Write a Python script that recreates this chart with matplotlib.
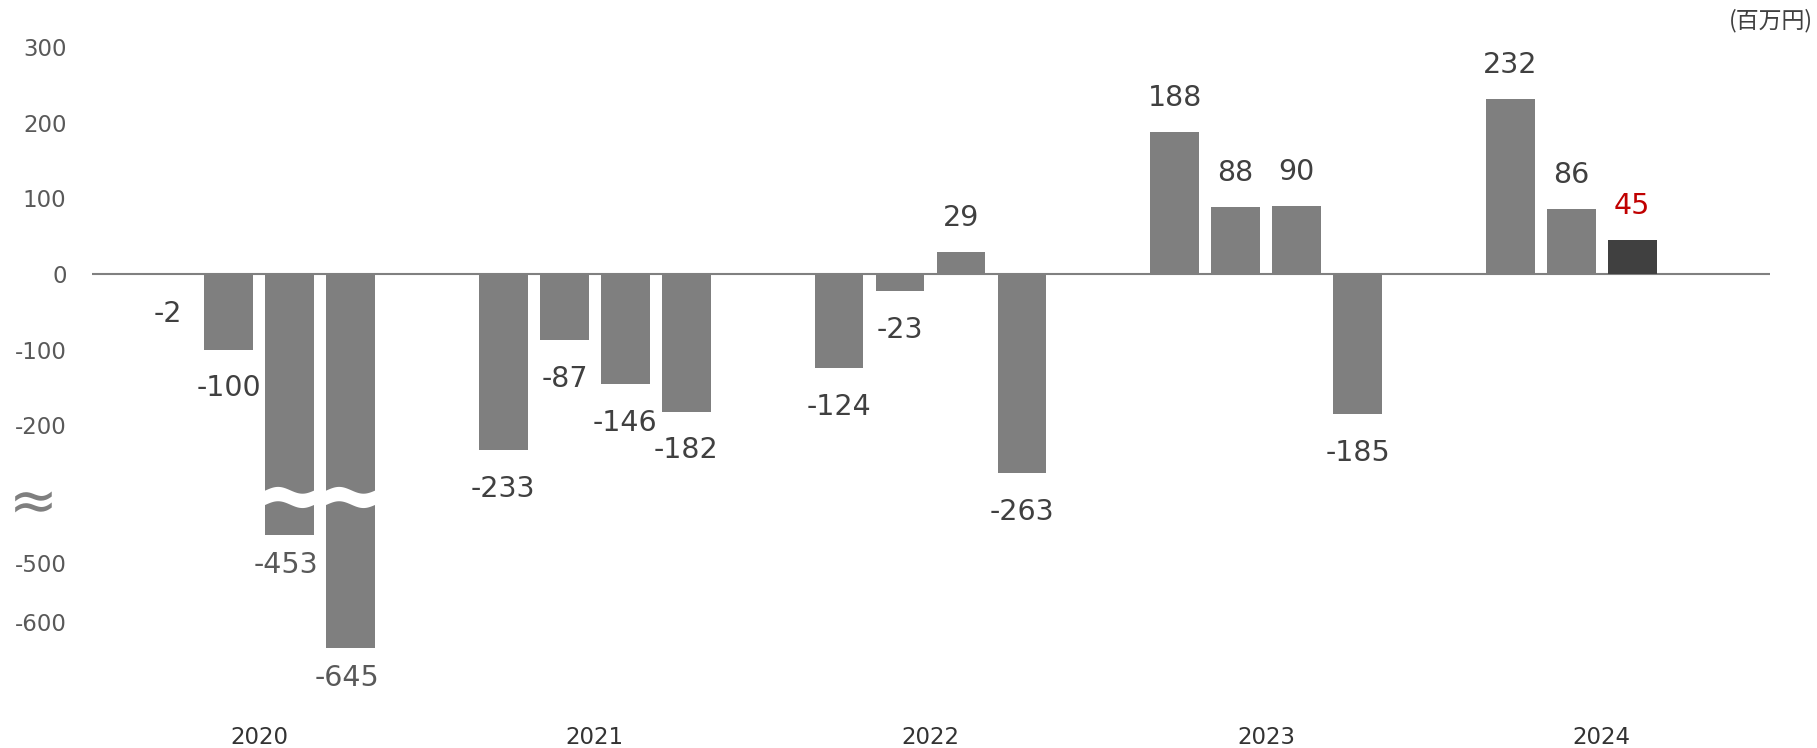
import matplotlib
matplotlib.use("Agg")
import matplotlib.pyplot as plt
import numpy as np

# quarterly operating profit (百万円)
years = ["2020", "2021", "2022", "2023", "2024"]
values_2020 = [-2, -100, -453, -645]
values_2021 = [-233, -87, -146, -182]
values_2022 = [-124, -23, 29, -263]
values_2023 = [188, 88, 90, -185]
values_2024 = [232, 86, 45]
yticks = [300, 200, 100, 0, -100, -200, -500, -600]
unit_label = "(百万円)"

all_values = [values_2020, values_2021, values_2022, values_2023, values_2024]

# broken axis: everything above BREAK_HI is linear, the lower part is squeezed
BREAK_HI = -320
BREAK_LO = -422
LOWER_SLOPE = 0.78
xp = np.array([-2000, BREAK_LO, BREAK_HI, 2000])
fp = np.array([BREAK_HI - 1 + (-2000 - BREAK_LO) * LOWER_SLOPE, BREAK_HI - 1, BREAK_HI, 2000])


def fwd(v):
    return np.interp(v, xp, fp)


def inv(d):
    return np.interp(d, fp, xp)


BAR = "#7f7f7f"
LAST = "#404040"
TXT = "#404040"
TICK = "#595959"

fig = plt.figure(figsize=(18.17, 7.48), dpi=100)
W, H = 1817, 748
ax = fig.add_axes([91.5 / W, 1 - 700 / H, (1769.5 - 91.5) / W, (700 - 30) / H])
ax.set_yscale("function", functions=(fwd, inv))

group_step = 5.5
for g, vals in enumerate(all_values):
    for q, v in enumerate(vals):
        x = g * group_step + q
        last = (g == len(all_values) - 1 and q == len(vals) - 1)
        ax.bar(x, v, width=0.8, color=LAST if last else BAR, zorder=2)
        broken = v < BREAK_LO
        dx = 0
        if v >= 0:
            off = 24.5
            col = "#c00000" if last else TXT
        else:
            off = -21.5 if broken else -28
            col = TICK if broken else TXT
            if broken:
                dx = -3
        ax.annotate(str(v), (x, v), xytext=(dx, off), textcoords="offset points",
                    ha="center", va="center", fontsize=20.5, color=col)
        if broken:
            # white wavy band marking the break
            xs = np.linspace(x - 0.42, x + 0.42, 80)
            t = (xs - (x - 0.4)) / 0.8
            mid = -295 + 4.5 * np.sin(2 * np.pi * t)
            ax.fill_between(xs, mid - 9.5, mid + 9.5, color="white", lw=0, zorder=3)

ax.axhline(0, color="#808080", lw=1.5, zorder=1)

ax.set_xlim(-1.25, 4 * group_step + 3 + 1.25)
ax.set_ylim(-733, 322.75)
ax.set_yticks(yticks)
ax.set_yticklabels([str(t) for t in yticks])
ax.set_xticks([g * group_step + 1.5 for g in range(len(years))])
ax.set_xticklabels(years)
ax.tick_params(axis="y", length=0, pad=18, labelsize=16.5, labelcolor=TICK)
ax.tick_params(axis="x", length=0, pad=19, labelsize=16.5, labelcolor="#333333")
for s in ax.spines.values():
    s.set_visible(False)

fig.text(33 / W, 1 - 503 / H, "≈", fontsize=42, color="#7f7f7f", ha="center", va="center")
fig.text(1813 / W, 1 - 21 / H, unit_label, fontsize=16.5, color=TXT, ha="right", va="center",
         family=["Noto Sans CJK JP", "DejaVu Sans"])

fig.savefig("out.png", dpi=100)
